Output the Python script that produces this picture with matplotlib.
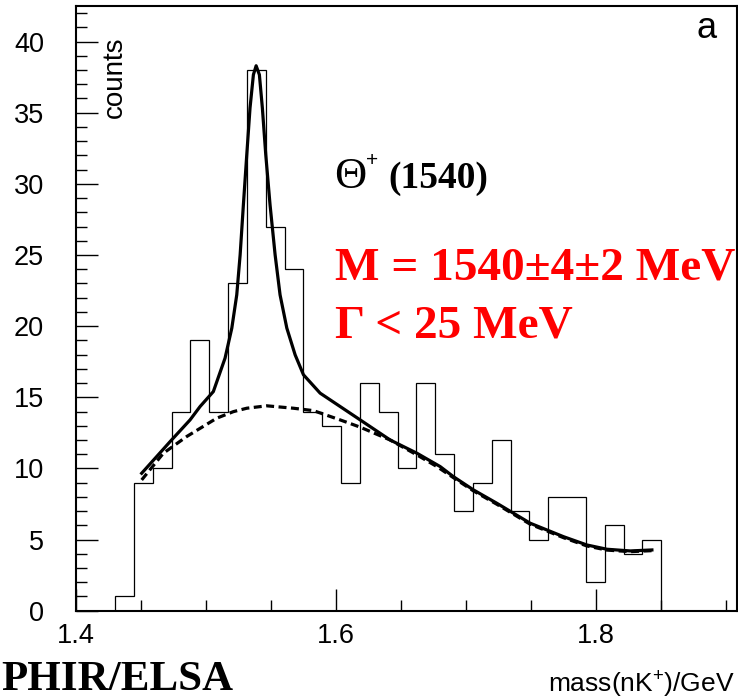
import numpy as np
import matplotlib
matplotlib.use('Agg')
import matplotlib.pyplot as plt
from matplotlib.ticker import MultipleLocator

plt.rcParams['font.family'] = 'Liberation Sans'
plt.rcParams['mathtext.fontset'] = 'custom'
plt.rcParams['mathtext.rm'] = 'Liberation Sans'
plt.rcParams['mathtext.it'] = 'Liberation Sans:italic'
plt.rcParams['mathtext.bf'] = 'Liberation Sans:bold'

# histogram of nK+ invariant mass (29 bins)
bin_edges = np.linspace(1.43, 1.85, 30)
bin_counts = [1, 9, 10, 14, 19, 14, 23, 38, 27, 24,
              14, 13, 9, 16, 14, 10, 16, 11, 7, 9,
              12, 7, 5, 8, 8, 2, 6, 4, 5]

# full fit (signal + background)
fit_mass = [1.4505, 1.4728, 1.4877, 1.4954, 1.5056, 1.5146, 1.5198, 1.5236,
            1.5262, 1.5287, 1.5313, 1.5338, 1.5364, 1.5385, 1.5410, 1.5433,
            1.5459, 1.5492, 1.5531, 1.5569, 1.5621, 1.5685, 1.5749,
            1.5877, 1.6031, 1.6185, 1.6415, 1.6621, 1.6800, 1.6902, 1.7056,
            1.7236, 1.7492, 1.7749, 1.7928, 1.8082, 1.8262, 1.8428]
fit_total = [9.66, 11.93, 13.41, 14.35, 15.40, 17.75, 19.86, 22.20,
             25.01, 28.53, 32.05, 35.33, 37.67, 38.30, 37.67, 35.33,
             32.05, 28.53, 25.01, 22.20, 19.86, 17.98, 16.58,
             15.29, 14.35, 13.41, 12.00, 11.07, 10.13, 9.42, 8.49,
             7.55, 6.15, 5.20, 4.62, 4.32, 4.20, 4.27]

# background only (dashed)
bg_mass = [1.4505, 1.4672, 1.4851, 1.5082, 1.5210, 1.5313, 1.5467, 1.5672,
           1.5826, 1.6031, 1.6185, 1.6415, 1.6621, 1.6775, 1.6902, 1.7056,
           1.7236, 1.7492, 1.7749, 1.7928, 1.8082, 1.8262, 1.8428]
bg_counts = [9.19, 11.07, 12.24, 13.53, 13.99, 14.23, 14.40, 14.23,
             14.06, 13.41, 12.90, 12.00, 10.95, 10.13, 9.35, 8.42,
             7.48, 6.08, 5.13, 4.55, 4.26, 4.15, 4.22]

W, H = 738, 700


def fx(px):
    return px / W


def fy(py):
    return 1 - py / H


fig = plt.figure(figsize=(W / 100, H / 100), dpi=100)
ax = fig.add_axes([fx(76), fy(610.7), (736.7 - 76) / W, (610.7 - 6) / H])

ax.stairs(bin_counts, bin_edges, baseline=0, color='black', lw=0.9)
ax.plot(fit_mass, fit_total, color='black', lw=2.3, solid_joinstyle='round')
ax.plot(bg_mass, bg_counts, color='black', lw=2.3, linestyle=(0, (2.5, 1.4)))

ax.set_xlim(1.4, 1.908)
ax.set_ylim(0, 42.5)
ax.xaxis.set_major_locator(MultipleLocator(0.2))
ax.xaxis.set_minor_locator(MultipleLocator(0.05))
ax.yaxis.set_major_locator(MultipleLocator(5))
ax.yaxis.set_minor_locator(MultipleLocator(1))
ax.tick_params(which='both', direction='in', top=False, right=False,
               labelsize=19.5, width=1)
ax.tick_params(which='major', length=16)
ax.tick_params(which='minor', length=8)
ax.tick_params(axis='x', pad=9)
ax.tick_params(axis='y', pad=23)
for s in ax.spines.values():
    s.set_linewidth(1.5)

fig.text(fx(114.5), fy(37), 'counts', rotation=90, ha='center', va='top', fontsize=20)
fig.text(fx(707), fy(37.5), 'a', ha='center', va='baseline', fontsize=26)

fig.text(fx(334), fy(188), 'Θ', family='Liberation Serif', fontsize=32, va='baseline')
fig.text(fx(366), fy(166), '+', fontsize=15, va='baseline')
fig.text(fx(388), fy(188), '(1540)', family='Liberation Serif', fontweight='bold',
         fontsize=27, va='baseline')

fig.text(fx(335), fy(280), 'M = 1540±4±2 MeV', color='red', family='Liberation Serif',
         fontweight='bold', fontsize=34, va='baseline')
fig.text(fx(335), fy(337), 'Γ < 25 MeV', color='red', family='Liberation Serif',
         fontweight='bold', fontsize=34, va='baseline')

fig.text(fx(735), fy(693), r'mass(nK$^{+}$)/GeV', ha='right', va='baseline', fontsize=19)
fig.text(fx(1), fy(699.5), 'PHIR/ELSA', ha='left', va='bottom',
         family='Liberation Serif', fontweight='bold', fontsize=31)

fig.savefig('out.png', dpi=100)
